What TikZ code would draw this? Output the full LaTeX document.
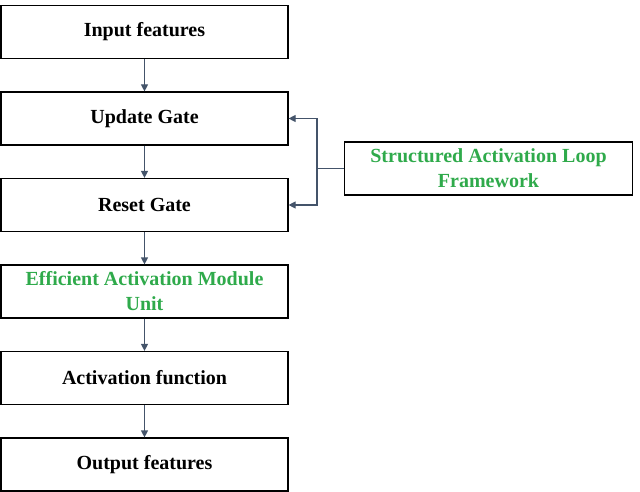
\documentclass[tikz,border=0pt]{standalone}
\usepackage{fontspec}
\setmainfont{Liberation Serif}
\usepackage{tikz}
\usetikzlibrary{positioning,arrows.meta,calc}
\definecolor{linegray}{HTML}{44546A}
\definecolor{textgreen}{HTML}{2FAA4B}

\begin{document}
\begin{tikzpicture}
[x=1pt,y=1pt,
   block/.style={draw,line width=1.2pt,minimum width=287pt,minimum height=53pt,
      inner sep=0pt,align=center,font=\fontsize{20}{25}\selectfont\bfseries},
   flow/.style={draw=linegray,line width=1.2pt,-{Triangle[length=7pt,width=7pt]}}]
\useasboundingbox (0,0) rectangle (640,-492);

\node[block] (in) at (144.5,-32) {Input features};
\node[block,below=32.3pt of in] (upd) {Update Gate};
\node[block,below=32.3pt of upd] (rst) {Reset Gate};
\node[block,below=32.3pt of rst,text=textgreen] (eam) {Efficient Activation Module\\Unit};
\node[block,below=32.3pt of eam] (act) {Activation function};
\node[block,below=32.3pt of act] (out) {Output features};

\node[block,minimum width=288pt,text=textgreen] (sal) at (488.5,-168.5) {Structured Activation Loop\\Framework};

    \draw[flow] (in) -- (upd);
    \draw[flow] (upd) -- (rst);
    \draw[flow] (rst) -- (eam);
    \draw[flow] (eam) -- (act);
    \draw[flow] (act) -- (out);

    \coordinate (split) at ($(sal.west)+(-27pt,0)$);
    \draw[draw=linegray,line width=1.2pt] (sal.west) -- (split);
    \draw[flow] (split) |- (upd.east);
    \draw[flow] (split) |- (rst.east);
\end{tikzpicture}
\end{document}
